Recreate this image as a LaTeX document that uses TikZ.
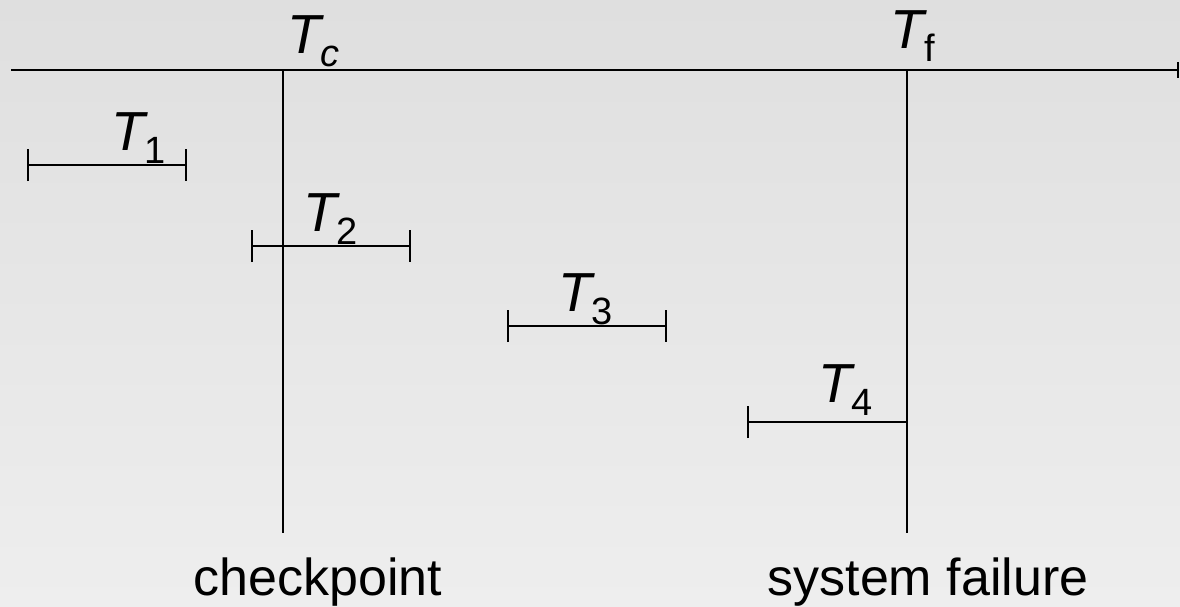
\documentclass[tikz,border=0pt]{standalone}
\usepackage{fontspec}
\setmainfont{Liberation Sans}
\usepackage{tikz}
\usetikzlibrary{arrows.meta}
\definecolor{bgtop}{HTML}{DFDFDF}
\definecolor{bgbot}{HTML}{EEEEEE}
\definecolor{ink}{HTML}{000000}
\newcommand{\Lab}{\fontsize{55}{60}\selectfont}
\newcommand{\Sub}{\fontsize{38}{42}\selectfont}
\newcommand{\Cap}{\fontsize{52}{58}\selectfont}
\newcommand{\Tn}[1]{\textit{T}\kern-4pt\raisebox{-13pt}{\Sub #1}}
\begin{document}
\begin{tikzpicture}[x=1pt,y=-1pt, font=\Cap, inner sep=0pt,
    span/.style={ink,line width=2.4pt,{Bar[width=32pt,line width=2.2pt]}-{Bar[width=32pt,line width=2.2pt]}},
    mark line/.style={ink,line width=1.8pt}]
  \useasboundingbox[shade,top color=bgtop,bottom color=bgbot] (0,0) rectangle (1180,607);
  % time axis and the two instants
  \coordinate (ax0) at (11,70); \coordinate (ax1) at (1179,70);
  \draw[ink,line width=2.6pt,-{Bar[width=16pt,line width=2.4pt]}] (ax0) -- (ax1);
  \coordinate (tc) at (283,70); \coordinate (tcb) at (283,533);
  \coordinate (tf) at (907,70); \coordinate (tfb) at (907,533);
  \draw[mark line] (tc) -- (tcb);
  \draw[mark line] (tf) -- (tfb);
  \node[anchor=base west,font=\Lab] (lc) at (287,54){\Tn{\textit{c}}};
  \node[anchor=base west,font=\Lab] (lf) at (890,49){\textit{T}\kern-3pt\raisebox{-13pt}{\Sub f}};
  % TRANSACTIONS
  \foreach \i/\a/\b/\y/\lx in {1/27/187/165/111, 2/251/411/246/303, 3/507/667/326/558}{
    \coordinate (s\i a) at (\a,\y); \coordinate (s\i b) at (\b,\y);
    \draw[span] (s\i a) -- (s\i b);
    \node[anchor=base west,font=\Lab] (t\i) at (\lx,\y-15){\Tn{\i}};}
  \coordinate (s4a) at (747,422); \coordinate (s4b) at (907,422);
  \draw[ink,line width=2.4pt,{Bar[width=32pt,line width=2.2pt]}-] (s4a) -- (s4b);
  \node[anchor=base west,font=\Lab] (t4) at (818,402){\Tn{4}};
  \node[anchor=base] (cp) at (318,595){checkpoint};
  \node[anchor=base] (sf) at (928,595){system failure};
\end{tikzpicture}
\end{document}
